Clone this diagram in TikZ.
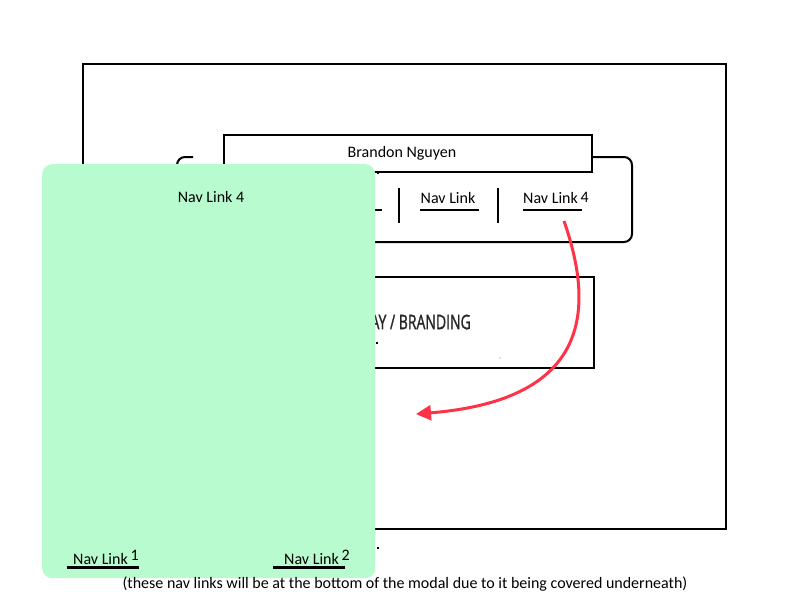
\documentclass[tikz,border=0pt]{standalone}
\usepackage{fontspec}
\setmainfont{Carlito}
\newfontfamily\condfont[FakeStretch=0.7,FakeBold=1.2]{Open Sans}
\usetikzlibrary{arrows.meta}
\definecolor{modalgreen}{RGB}{183,251,207}
\definecolor{arrowred}{RGB}{255,51,71}
\tikzset{
  frame/.style={draw=black, line width=2pt},
  txt/.style={font=\fontsize{16}{19}\selectfont, inner sep=0pt},
  uline/.style={line width=2pt},
  thickuline/.style={line width=3pt},
  sep/.style={line width=2pt},
  redarrow/.style={draw=arrowred, line width=3pt, -{Triangle[length=15pt,width=15pt]}}
}
\begin{document}
\begin{tikzpicture}[x=1pt,y=-1pt]
\useasboundingbox (0,0) rectangle (800,600);
\fill[white] (0,0) rectangle (800,600);
% outer frame
\node[frame, minimum width=643pt, minimum height=465pt, anchor=north west, inner sep=0pt] (outer) at (82,63) {};
% nav container
\draw[line width=2pt, rounded corners=8pt] (193,157) -- (177,157) -- (177,242) -- (632,242) -- (632,157) -- (591,157);
% brand box
\node[frame, fill=white, minimum width=368pt, minimum height=37pt, anchor=north west, inner sep=0pt] (brand) at (223,134) {};
\node[txt] (brandtxt) at (402,153) {Brandon Nguyen};
% separators
\draw[sep] (399,188) -- (399,223);
\draw[sep] (498,188) -- (498,223);
% nav links
\draw[uline] (320,210) -- (382,210);
\node[txt] (nl2) at (448,198) {Nav Link};
\draw[uline] (420,210) -- (479,210);
\node[txt, anchor=west] (nl3) at (523,198) {Nav Link\,\raisebox{1pt}{4}};
\draw[uline] (523,210) -- (582,210);
% display box
\draw[line width=2.5pt] (250,277) rectangle (594,368);
\node[inner sep=0pt, anchor=east, text=black!85, font=\condfont\fontsize{20}{24}\selectfont] (disp) at (471,322) {DISPLAY / BRANDING};
\fill[gray] (500,358) circle (0.7pt);
% modal
\node[fill=modalgreen, rounded corners=10pt, minimum width=333pt, minimum height=414pt, anchor=north west, inner sep=0pt] (modal) at (42,164) {};
\fill (377,172) rectangle +(2,2);
\fill (376,342) rectangle +(2,2);
\fill (377,547) rectangle +(2,2);
\node[txt] (m4) at (211,197) {Nav Link 4};
\node[txt, anchor=west] (mb1) at (73,557) {Nav Link\,\raisebox{4pt}{1}};
\draw[thickuline] (67,567) -- (139,567);
\node[txt, anchor=west] (mb2) at (284,557) {Nav Link\,\raisebox{4pt}{2}};
\draw[thickuline] (273,567) -- (345,567);
% caption
\node[txt] (caption) at (405,584) {(these nav links will be at the bottom of the modal due to it being covered underneath)};
% arrow
\coordinate (astart) at (564,221);
\coordinate (aend) at (416,414);
\draw[redarrow] (astart) .. controls (595,310) and (590,400) .. (aend);
\end{tikzpicture}
\end{document}
